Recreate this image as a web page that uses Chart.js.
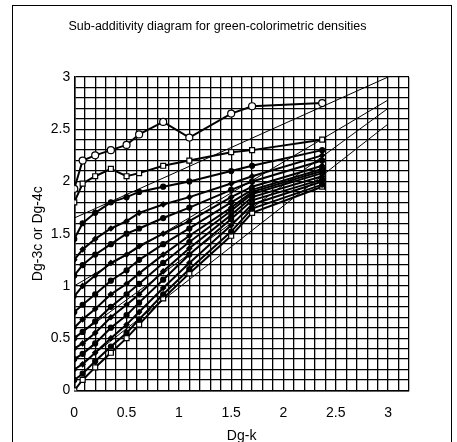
<!DOCTYPE html>
<html lang="en">
<head>
  <meta charset="UTF-8">
  <title>Sub-additivity diagram</title>
  <script src="https://cdn.jsdelivr.net/npm/chart.js"></script>
<style>
  body {
    margin: 0;
    background: #ffffff;
  }
  .wrap {
    position: relative;
    width: 457px;
    height: 442px;
  }
  .frame {
    position: absolute;
    left: 12px;
    top: 5px;
    width: 438px;
    height: 436px;
    border: 1px solid #000;
    border-bottom: none;
  }
</style>
</head>
<body>
  <div class="wrap">
    <div class="frame"></div>
    <canvas id="chart" width="457" height="442"></canvas>
  </div>

<script>
  // x positions (Dg-k) shared by every measured series
  const kValues = [0, 0.08, 0.2, 0.35, 0.5, 0.62, 0.85, 1.1, 1.5, 1.7, 2.37];

  // Dg-3c / Dg-4c readings, one list per series (top to bottom)
  const s1  = [1.93, 2.2, 2.25, 2.3, 2.35, 2.45, 2.57, 2.42, 2.65, 2.72, 2.75];
  const s2  = [1.8, 1.98, 2.05, 2.12, 2.05, 2.08, 2.15, 2.2, 2.28, 2.3, 2.4];
  const s3  = [1.45, 1.6, 1.7, 1.8, 1.85, 1.9, 1.95, 2.0, 2.1, 2.15, 2.3];
  const s4  = [1.25, 1.35, 1.45, 1.55, 1.62, 1.7, 1.78, 1.85, 1.98, 2.05, 2.25];
  const s5  = [1.1, 1.2, 1.3, 1.4, 1.5, 1.55, 1.65, 1.75, 1.92, 2.0, 2.2];
  const s6  = [0.9, 1.0, 1.1, 1.22, 1.3, 1.38, 1.5, 1.62, 1.85, 1.95, 2.15];
  const s7  = [0.75, 0.82, 0.92, 1.05, 1.15, 1.25, 1.4, 1.55, 1.8, 1.92, 2.12];
  const s8  = [0.6, 0.68, 0.78, 0.92, 1.02, 1.12, 1.3, 1.48, 1.75, 1.9, 2.1];
  const s9  = [0.5, 0.56, 0.66, 0.8, 0.92, 1.02, 1.22, 1.42, 1.72, 1.88, 2.08];
  const s10 = [0.4, 0.45, 0.55, 0.7, 0.82, 0.92, 1.14, 1.36, 1.68, 1.85, 2.05];
  const s11 = [0.3, 0.35, 0.45, 0.6, 0.72, 0.84, 1.06, 1.3, 1.64, 1.82, 2.02];
  const s12 = [0.2, 0.25, 0.36, 0.5, 0.63, 0.75, 0.98, 1.22, 1.58, 1.78, 2.0];
  const s13 = [0.1, 0.16, 0.28, 0.42, 0.55, 0.68, 0.92, 1.16, 1.52, 1.74, 1.97];
  const s14 = [0, 0.1, 0.22, 0.36, 0.5, 0.63, 0.88, 1.12, 1.48, 1.7, 1.95];

  // straight trend lines: start and end (x = 0 and x = 3)
  const trendX = [0, 3];
  const trend1 = [1.65, 3.0];
  const trend2 = [1.0, 2.78];
  const trend3 = [0.5, 2.7];
  const trend4 = [0.2, 2.55];

  const measured = [s1, s2, s3, s4, s5, s6, s7, s8, s9, s10, s11, s12, s13, s14];
  const trends = [trend1, trend2, trend3, trend4];

  const markerStyle = i => {
    if (i === 0) return { style: "circle", fill: "#fff", r: 3.5 };
    if (i === 1 || i === 13) return { style: "rect", fill: "#fff", r: 3.5 };
    return { style: i % 2 ? "rectRot" : "circle", fill: "#000", r: 2.5 };
  };

  const datasets = [];
  measured.forEach((ys, i) => {
    const m = markerStyle(i);
    datasets.push({
      data: kValues.map((x, j) => ({ x: x, y: ys[j] })),
      borderColor: "#000",
      borderWidth: 2,
      pointStyle: m.style,
      pointRadius: m.r,
      pointBackgroundColor: m.fill,
      pointBorderColor: "#000",
      pointBorderWidth: 1.2,
      showLine: true,
      tension: 0
    });
  });
  trends.forEach(ys => {
    datasets.push({
      data: trendX.map((x, j) => ({ x: x, y: ys[j] })),
      borderColor: "#000",
      borderWidth: 1,
      pointRadius: 0,
      showLine: true
    });
  });

  const halfLabel = v => Math.abs(v * 2 - Math.round(v * 2)) < 1e-6 ? String(Math.round(v * 10) / 10) : "";

  new Chart(document.getElementById("chart"), {
    type: "scatter",
    data: { datasets: datasets },
    options: {
      responsive: false,
      animation: false,
      layout: { padding: { left: 26, right: 48, top: 4, bottom: -3 } },
      plugins: {
        legend: { display: false },
        tooltip: { enabled: false },
        title: {
          display: true,
          text: "Sub-additivity diagram for green-colorimetric densities",
          color: "#000",
          font: { family: "Liberation Sans", size: 12.5, weight: "normal" },
          padding: { top: 15, bottom: 43 }
        }
      },
      scales: {
        x: {
          type: "linear",
          min: 0,
          max: 3.2,
          border: { color: "#000", width: 1.5 },
          grid: { color: "#000", lineWidth: 1.3, drawTicks: false },
          ticks: {
            stepSize: 0.1,
            autoSkip: false,
            maxRotation: 0,
            color: "#000",
            padding: 14,
            font: { family: "Liberation Sans", size: 14 },
            callback: halfLabel
          },
          title: {
            display: true,
            text: "Dg-k",
            color: "#000",
            font: { family: "Liberation Sans", size: 14 },
            padding: { top: -7, bottom: 0 }
          }
        },
        y: {
          type: "linear",
          min: 0,
          max: 3,
          border: { color: "#000", width: 1.5 },
          grid: { color: "#000", lineWidth: 1.3, drawTicks: false },
          ticks: {
            stepSize: 0.1,
            autoSkip: false,
            color: "#000",
            padding: 4,
            font: { family: "Liberation Sans", size: 14 },
            callback: halfLabel
          },
          title: {
            display: true,
            text: "Dg-3c or Dg-4c",
            color: "#000",
            font: { family: "Liberation Sans", size: 14 },
            padding: { top: 4, bottom: 0 }
          }
        }
      }
    }
  });
</script>
</body>
</html>
